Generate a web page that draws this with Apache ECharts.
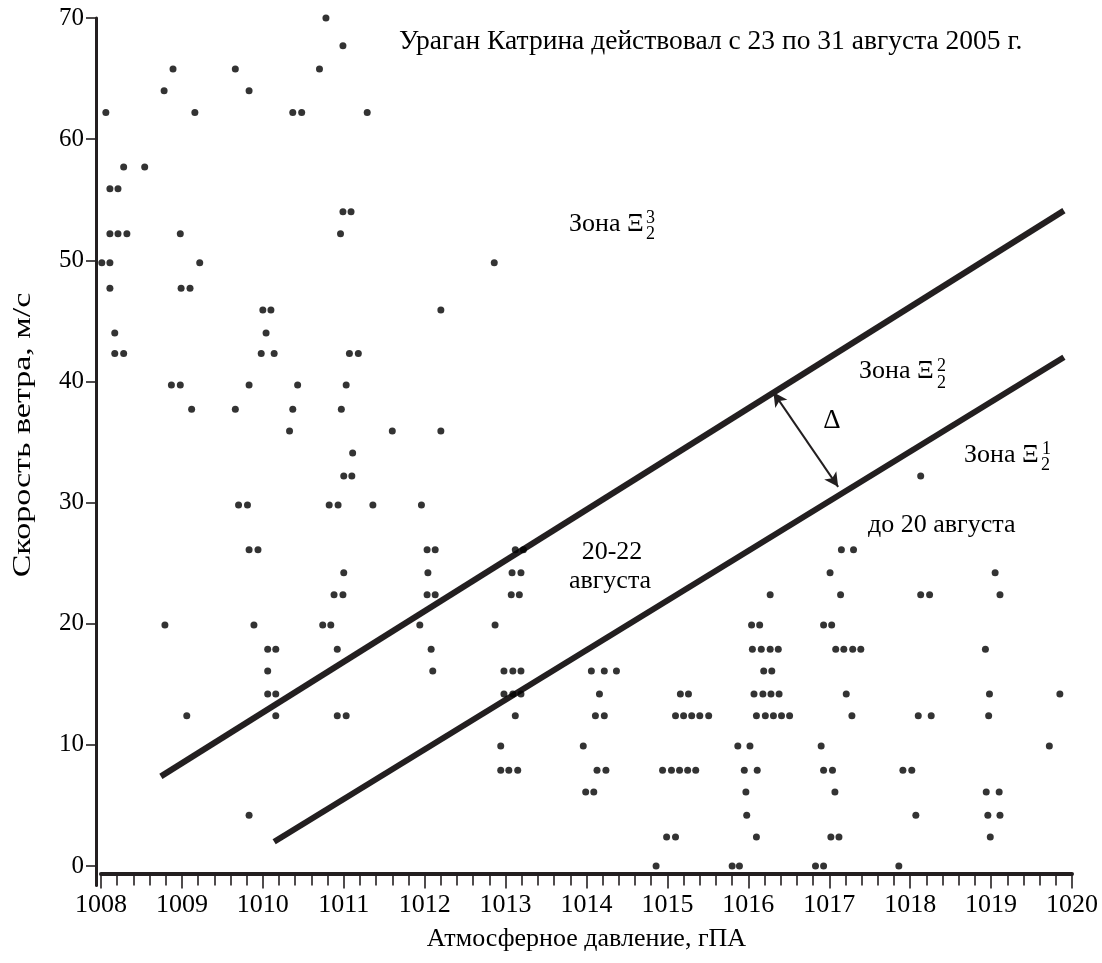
<!DOCTYPE html>
<html>
<head>
<meta charset="utf-8">
<script src="https://cdn.jsdelivr.net/npm/echarts@6/dist/echarts.min.js"></script>
<style>
html,body{margin:0;padding:0;background:#fff;}
#chart{width:1102px;height:963px;}
</style>
</head>
<body>
<div id="chart"></div>
<script>
// Wind speed levels (m/s) and pressures (hPa) of the observations at each level
const windLevels = [70.0, 67.7, 65.8, 64.0, 62.2, 57.7, 55.9, 54.0, 52.2, 49.8, 47.7, 45.9, 44.0, 42.3,
  39.7, 37.7, 35.9, 34.1, 32.2, 29.8, 26.1, 24.2, 22.4, 19.9, 17.9, 16.1, 14.2, 12.4, 9.9, 7.9, 6.1, 4.2, 2.4, 0.0];
const pressureRows = [
  [1010.78],
  [1010.99],
  [1008.89, 1009.66, 1010.70],
  [1008.78, 1009.83],
  [1008.06, 1009.16, 1010.37, 1010.48, 1011.29],
  [1008.28, 1008.54],
  [1008.11, 1008.21],
  [1010.99, 1011.09],
  [1008.11, 1008.21, 1008.32, 1008.98, 1010.96],
  [1008.01, 1008.11, 1009.22, 1012.86],
  [1008.11, 1008.99, 1009.10],
  [1010.00, 1010.10, 1012.20],
  [1008.17, 1010.04],
  [1008.17, 1008.28, 1009.98, 1010.14, 1011.07, 1011.18],
  [1008.87, 1008.98, 1009.83, 1010.43, 1011.03],
  [1009.12, 1009.66, 1010.37, 1010.97],
  [1010.33, 1011.60, 1012.20],
  [1011.11],
  [1011.00, 1011.10, 1018.13],
  [1009.70, 1009.81, 1010.82, 1010.93, 1011.36, 1011.96],
  [1009.83, 1009.94, 1012.03, 1012.13, 1013.12, 1013.22, 1017.15, 1017.30],
  [1011.00, 1012.04, 1013.08, 1013.19, 1017.01, 1019.05],
  [1010.88, 1010.99, 1012.03, 1012.13, 1013.07, 1013.17, 1016.27, 1017.14, 1018.13, 1018.24, 1019.11],
  [1008.79, 1009.89, 1010.74, 1010.84, 1011.94, 1012.87, 1016.04, 1016.14, 1016.93, 1017.03],
  [1010.06, 1010.16, 1010.92, 1012.08, 1016.05, 1016.16, 1016.27, 1016.37, 1017.08, 1017.18, 1017.29, 1017.39, 1018.93],
  [1010.06, 1012.10, 1012.98, 1013.09, 1013.19, 1014.06, 1014.22, 1014.37, 1016.19, 1016.29],
  [1010.06, 1010.16, 1012.98, 1013.09, 1013.19, 1014.16, 1015.16, 1015.26, 1016.07, 1016.18, 1016.28, 1016.38, 1017.21, 1018.98, 1019.85],
  [1009.06, 1010.16, 1010.92, 1011.03, 1013.12, 1014.11, 1014.22, 1015.10, 1015.20, 1015.30, 1015.40, 1015.51, 1016.10, 1016.21, 1016.31, 1016.41, 1016.51, 1017.28, 1018.10, 1018.26, 1018.97],
  [1012.94, 1013.96, 1015.87, 1016.02, 1016.90, 1019.72],
  [1012.94, 1013.04, 1013.15, 1014.13, 1014.24, 1014.94, 1015.05, 1015.15, 1015.25, 1015.35, 1015.95, 1016.11, 1016.93, 1017.04, 1017.91, 1018.02],
  [1013.99, 1014.09, 1015.97, 1017.07, 1018.94, 1019.10],
  [1009.83, 1015.98, 1018.07, 1018.96, 1019.11],
  [1014.99, 1015.10, 1016.10, 1017.02, 1017.12, 1018.99],
  [1014.86, 1015.80, 1015.89, 1016.83, 1016.93, 1017.86]
];
// Zone boundary lines (pressure, wind)
const upperBoundPressure = [1008.74, 1019.90];
const upperBoundWind = [7.4, 54.1];
const lowerBoundPressure = [1010.14, 1019.90];
const lowerBoundWind = [2.0, 42.0];
// Delta arrow between the boundaries
const deltaPressure = [1016.31, 1017.11];
const deltaWind = [39.1, 31.3];
// Axis ticks
const yTickValues = [0, 10, 20, 30, 40, 50, 60, 70];
const xMin = 1008, xMax = 1020, xStep = 1;

const FONT = '"Liberation Serif", "Times New Roman", serif';
const INK = '#231f20';

const points = [];
windLevels.forEach((w, i) => pressureRows[i].forEach(p => points.push([p, w])));
const pairs = (px, py) => px.map((p, i) => [p, py[i]]);

function txt(x, y, text, size, align, extra) {
  return Object.assign({
    type: 'text', x: x, y: y, silent: true,
    style: {
      text: text, font: size + 'px ' + FONT, fill: '#000',
      align: align, textAlign: align, verticalAlign: 'middle', textVerticalAlign: 'middle'
    }
  }, extra || {});
}

const chart = echarts.init(document.getElementById('chart'), null, {renderer: 'canvas'});
chart.setOption({
  animation: false,
  backgroundColor: '#ffffff',
  grid: {left: 101, right: 30, top: 18, bottom: 77.6, containLabel: false},
  xAxis: {
    type: 'value', min: xMin, max: xMax, interval: xStep,
    name: 'Атмосферное давление, гПА', nameLocation: 'middle', nameGap: 53,
    nameTextStyle: {fontFamily: FONT, fontSize: 26, color: '#000'},
    offset: -12,
    axisLine: {show: true, onZero: false, lineStyle: {color: INK, width: 4}},
    axisTick: {show: true, length: 15, lineStyle: {color: INK, width: 1.6}},
    minorTick: {show: true, splitNumber: 5, length: 12, lineStyle: {color: INK, width: 1.6}},
    axisLabel: {fontFamily: FONT, fontSize: 26, color: '#000', margin: 19, formatter: v => String(v)},
    splitLine: {show: false}
  },
  yAxis: {
    type: 'value', min: -1.6, max: 70, offset: 5,
    axisLine: {show: true, onZero: false, lineStyle: {color: INK, width: 3}},
    axisTick: {show: true, customValues: yTickValues, length: 10, lineStyle: {color: INK, width: 1.6}},
    axisLabel: {customValues: yTickValues, fontFamily: FONT, fontSize: 25, color: '#000', margin: 12},
    splitLine: {show: false}
  },
  series: [
    {
      type: 'line', data: pairs(upperBoundPressure, upperBoundWind), symbol: 'none',
      lineStyle: {color: INK, width: 6}, silent: true, z: 2
    },
    {
      type: 'line', data: pairs(lowerBoundPressure, lowerBoundWind), symbol: 'none',
      lineStyle: {color: INK, width: 6}, silent: true, z: 2,
      markLine: {
        silent: true, symbol: ['arrow', 'arrow'], symbolSize: [11, 14],
        label: {show: false},
        lineStyle: {color: INK, width: 2, type: 'solid'},
        data: [[{coord: [deltaPressure[0], deltaWind[0]]}, {coord: [deltaPressure[1], deltaWind[1]]}]]
      }
    },
    {
      type: 'scatter', data: points, symbol: 'circle', symbolSize: 7,
      itemStyle: {color: '#000'}, silent: true, z: 3
    }
  ],
  graphic: [
    txt(399, 42, 'Ураган Катрина действовал с 23 по 31 августа 2005 г.', 27.5, 'left'),
    txt(569, 224, 'Зона Ξ', 26, 'left'),
    txt(646, 218, '3', 18, 'left'),
    txt(646, 234, '2', 18, 'left'),
    txt(859, 371, 'Зона Ξ', 26, 'left'),
    txt(937, 366, '2', 18, 'left'),
    txt(937, 383, '2', 18, 'left'),
    txt(964, 455, 'Зона Ξ', 26, 'left'),
    txt(1042, 449, '1', 18, 'left'),
    txt(1041, 465, '2', 18, 'left'),
    txt(832, 421, 'Δ', 27, 'center'),
    txt(868, 525, 'до 20 августа', 26, 'left'),
    txt(612, 552, '20-22', 26, 'center'),
    txt(610, 581, 'августа', 26, 'center'),
    txt(23, 435, 'Скорость ветра, м/с', 25, 'center', {rotation: Math.PI / 2, scaleX: 1.36})
  ]
});
</script>
</body>
</html>
